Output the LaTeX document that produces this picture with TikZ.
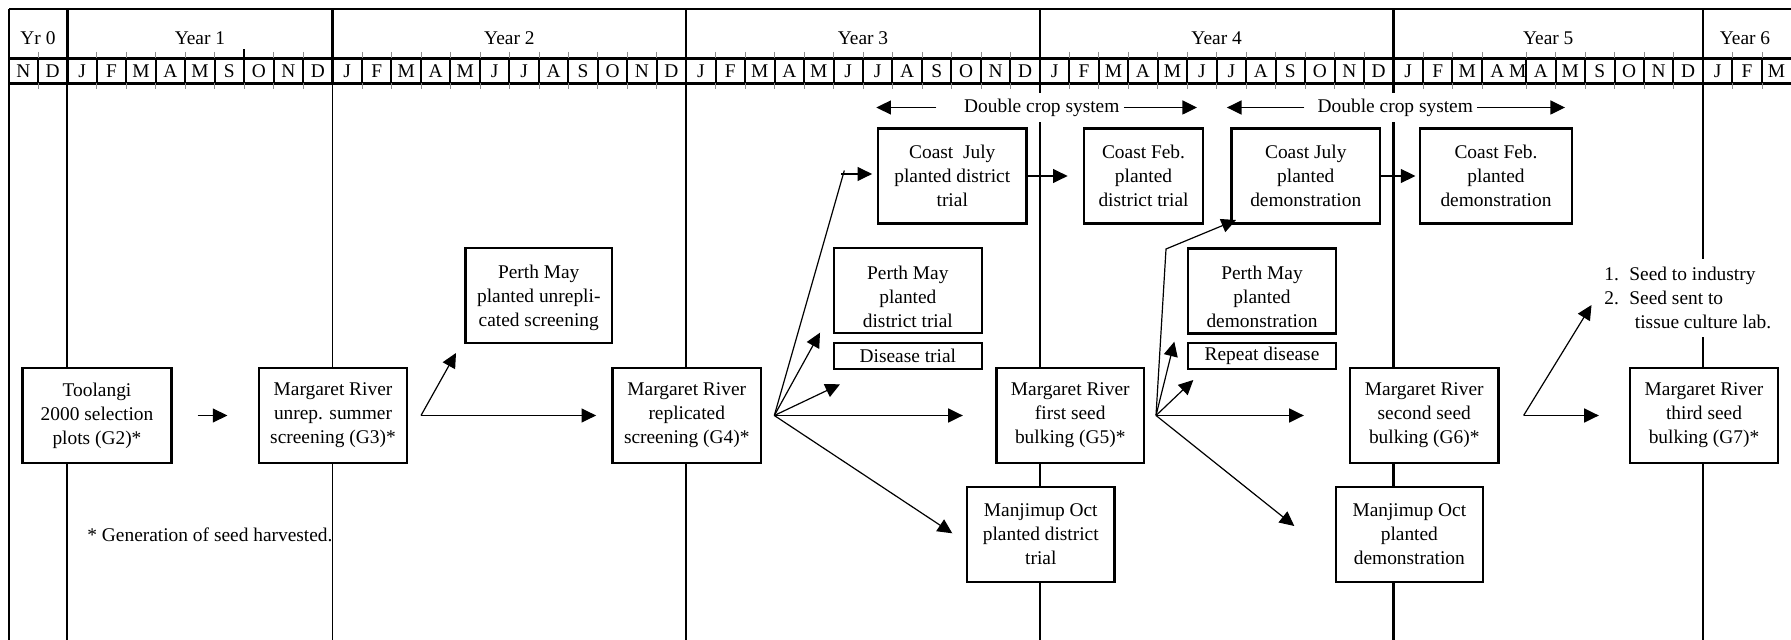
\documentclass[tikz,border=0pt]{standalone}
\usepackage{fontspec}
\setmainfont{Liberation Serif}
\usetikzlibrary{arrows.meta}
\newcommand\dfont{\fontsize{9.7}{12}\selectfont}
\tikzset{
  box/.style={draw, line width=1.2pt, fill=white, inner sep=0pt, align=center, font=\dfont},
  hd/.style={font=\dfont, inner sep=0pt, text height=6.6pt, text depth=0pt},
  arr/.style={line width=0.6pt, -{Triangle[length=7.3pt,width=7pt]}},
  ln/.style={line width=0.6pt},
  hline/.style={line width=1.3pt},
  mline/.style={line width=1pt},
  tickln/.style={line width=0.3pt, black!45},
}
\begin{document}
\begin{tikzpicture}[x=0.5pt,y=-0.5pt]
\useasboundingbox (0,0) rectangle (1791,640);
% ---------- header grid ----------
\draw[hline] (9,9) -- (1791,9);
\draw[hline] (9,58.3) -- (1791,58.3);
\draw[hline] (9,83.3) -- (1791,83.3);
\draw[line width=1.1pt] (9,9) -- (9,640);
\foreach \x in {67.3,332.53,686.17,1039.81,1393.45,1702.9}
  \draw[hline] (\x,9) -- (\x,83.3);
% month dividers
\draw[tickln] (38,52) -- (38,89);
\draw[mline] (38,58.3) -- (38,83.3);
\foreach \k in {1,...,8} {
  \draw[tickln] ({67.3+\k*29.47},52) -- ({67.3+\k*29.47},89);
  \draw[mline] ({67.3+\k*29.47},58.3) -- ({67.3+\k*29.47},83.3);
}
\foreach \s in {332.53,686.17,1039.81} {
  \foreach \k in {1,...,11} {
    \draw[tickln] ({\s+\k*29.47},52) -- ({\s+\k*29.47},89);
    \draw[mline] ({\s+\k*29.47},58.3) -- ({\s+\k*29.47},83.3);
  }
}
\foreach \k in {1,2,3,4.5,5.5,6.5,7.5,8.5,9.5} {
  \draw[tickln] ({1393.45+\k*29.47},52) -- ({1393.45+\k*29.47},89);
  \draw[mline] ({1393.45+\k*29.47},58.3) -- ({1393.45+\k*29.47},83.3);
}
\foreach \k in {1,2} {
  \draw[tickln] ({1702.9+\k*29.47},52) -- ({1702.9+\k*29.47},89);
  \draw[mline] ({1702.9+\k*29.47},58.3) -- ({1702.9+\k*29.47},83.3);
}
\draw[mline] (244.1,58.3) -- (244.1,49);
% year labels
\node[hd] (yr0) at (38,38) {Yr 0};
\node[hd] (yr1) at (199.9,38) {Year 1};
\node[hd] (yr2) at (509.35,38) {Year 2};
\node[hd] (yr3) at (863,38) {Year 3};
\node[hd] (yr4) at (1216.6,38) {Year 4};
\node[hd] (yr5) at (1548.2,38) {Year 5};
\node[hd] (yr6) at (1745,38) {Year 6};
% month labels
\node[hd] (m0-1) at (23.5,70.8) {N};
\node[hd] (m0-2) at (52.6,70.8) {D};
\foreach \m [count=\k] in {J,F,M,A,M,S,O,N,D}
  \node[hd] (m1-\k) at ({67.3+(\k-0.5)*29.47},70.8) {\m};
\foreach \s/\n in {332.53/2,686.17/3,1039.81/4} {
  \foreach \m [count=\k] in {J,F,M,A,M,J,J,A,S,O,N,D}
    \node[hd] (m\n-\k) at ({\s+(\k-0.5)*29.47},70.8) {\m};
}
\foreach \m/\c [count=\k] in {J/0.5,F/1.5,M/2.5,A M/3.9,A/5,M/6,S/7,O/8,N/9,D/10}
  \node[hd] (m5-\k) at ({1393.45+\c*29.47},70.8) {\m};
\foreach \m [count=\k] in {J,F,M}
  \node[hd] (m6-\k) at ({1702.9+(\k-0.5)*29.47},70.8) {\m};
% ---------- body year lines ----------
\draw[line width=1.1pt] (67.3,83.3) -- (67.3,640);
\draw[line width=0.7pt] (332.53,83.3) -- (332.53,640);
\draw[line width=0.9pt] (686.17,83.3) -- (686.17,640);
\draw[line width=1.3pt] (1039.81,83.3) -- (1039.81,640);
\draw[line width=1.3pt] (1393.45,83.3) -- (1393.45,640);
\draw[line width=1pt] (1702.9,83.3) -- (1702.9,640);
% ---------- boxes ----------
\node[box, minimum width=74.5pt, minimum height=47.5pt] (g2) at (97,415.5) {Toolangi\\2000 selection\\plots (G2)*};
\node[box, minimum width=74pt, minimum height=47.5pt] (g3) at (333,415.5) {Margaret River\\unrep. summer\\screening (G3)*};
\node[box, minimum width=73.25pt, minimum height=47.5pt] (pu) at (538.75,295.5) {\rule{0pt}{9.5pt}Perth May\\planted unrepli-\\cated screening};
\node[box, minimum width=74.25pt, minimum height=47.5pt] (g4) at (686.75,415.5) {Margaret River\\replicated\\screening (G4)*};
\node[box, minimum width=74.25pt, minimum height=47.5pt] (cj1) at (952.25,176) {Coast\ \ July\\planted district\\trial};
\node[box, minimum width=59.5pt, minimum height=47.5pt] (cf1) at (1143.5,176) {Coast Feb.\\planted\\district trial};
\node[box, minimum width=73.85pt, minimum height=42.5pt] (pd) at (907.85,290.8) {\rule{0pt}{13pt}Perth May\\planted\\district trial};
\node[box, minimum width=73.85pt, minimum height=12.85pt] (dis) at (907.85,356.15) {Disease trial};
\node[box, minimum width=73.75pt, minimum height=47.5pt] (g5) at (1070.25,415.5) {Margaret River\\first seed\\bulking (G5)*};
\node[box, minimum width=73.75pt, minimum height=47.5pt] (mo1) at (1040.75,534.5) {Manjimup Oct\\planted district\\trial};
\node[box, minimum width=74.25pt, minimum height=47.5pt] (cj2) at (1305.75,176) {Coast July\\planted\\demonstration};
\node[box, minimum width=76pt, minimum height=47.5pt] (cf2) at (1496,176) {Coast Feb.\\planted\\demonstration};
\node[box, minimum width=74pt, minimum height=42.5pt] (pdm) at (1262,290.9) {\rule{0pt}{13pt}Perth May\\planted\\demonstration};
\node[box, minimum width=74pt, minimum height=12.85pt] (rep) at (1262,356.15) {Repeat disease};
\node[box, minimum width=74.25pt, minimum height=47.5pt] (g6) at (1424.25,415.5) {Margaret River\\second seed\\bulking (G6)*};
\node[box, minimum width=73.65pt, minimum height=47.5pt] (mo2) at (1409.35,534.5) {Manjimup Oct\\planted\\demonstration};
\node[box, minimum width=74pt, minimum height=47.5pt] (g7) at (1704,415.5) {Margaret River\\third seed\\bulking (G7)*};
% ---------- texts ----------
\node[font=\dfont, anchor=west, inner sep=0pt] (note) at (87,534.5) {* Generation of seed harvested.};
\node[font=\dfont, fill=white, inner xsep=0pt, inner ysep=3pt] (dc1) at (1041.8,107.5) {Double crop system};
\node[font=\dfont, fill=white, inner xsep=0pt, inner ysep=3pt] (dc2) at (1395.3,107.5) {Double crop system};
\node[font=\dfont, fill=white, align=left, anchor=west, inner xsep=2pt, inner ysep=4pt] (seed) at (1600,298)
  {\makebox[12.5pt][l]{1.}Seed to industry\\\makebox[12.5pt][l]{2.}Seed sent to\\\hspace{15.25pt}tissue culture lab.};
% ---------- coordinates ----------
\coordinate (dc1l) at (876.3,107.5);
\coordinate (dc1r) at (1197,107.5);
\coordinate (dc2l) at (1226.9,107.5);
\coordinate (dc2r) at (1565,107.5);
\coordinate (f3) at (421,415.5);
\coordinate (t3) at (456,353);
\coordinate (f4) at (774.3,415.5);
\coordinate (k4a) at (844.3,170.5);
\coordinate (k4b) at (841,174);
\coordinate (t4a) at (820,332.7);
\coordinate (t4b) at (840,384.3);
\coordinate (t4c) at (952.3,533.3);
\coordinate (f5) at (1156,415.5);
\coordinate (k5) at (1166,249);
\coordinate (t5a) at (1236,220);
\coordinate (t5b) at (1174.3,341.7);
\coordinate (t5c) at (1193.3,380);
\coordinate (t5d) at (1294.3,526);
\coordinate (f6) at (1523.6,415.5);
\coordinate (t6) at (1591.5,305);
% ---------- connectors ----------
\draw[arr, shorten <=13.75pt] (dc1.west) -- (dc1l);
\draw[arr, shorten <=2pt] (dc1.east) -- (dc1r);
\draw[arr, shorten <=6.5pt] (dc2.west) -- (dc2l);
\draw[arr, shorten <=2pt] (dc2.east) -- (dc2r);
\draw[arr, shorten <=12.5pt, shorten >=15.2pt] (g2) -- (g3);
\draw[arr] (f3) -- (t3);
\draw[arr, shorten >=7.6pt] (f3) -- (g4);
\draw[ln] (f4) -- (k4a);
\draw[arr, shorten >=2.35pt] (k4b) -- (k4b -| cj1.west);
\draw[arr] (f4) -- (t4a);
\draw[arr] (f4) -- (t4b);
\draw[arr, shorten >=16.25pt] (f4) -- (g5);
\draw[arr] (f4) -- (t4c);
\draw[arr, shorten >=7.6pt] (cj1) -- (cf1);
\draw[arr] (f5) -- (k5) -- (t5a);
\draw[arr] (f5) -- (t5b);
\draw[arr] (f5) -- (t5c);
\draw[arr, shorten >=22.5pt] (f5) -- (g6);
\draw[arr] (f5) -- (t5d);
\draw[arr, shorten >=1.7pt] (cj2) -- (cf2);
\draw[arr] (f6) -- (t6);
\draw[arr, shorten >=15pt] (f6) -- (g7);
\end{tikzpicture}
\end{document}
